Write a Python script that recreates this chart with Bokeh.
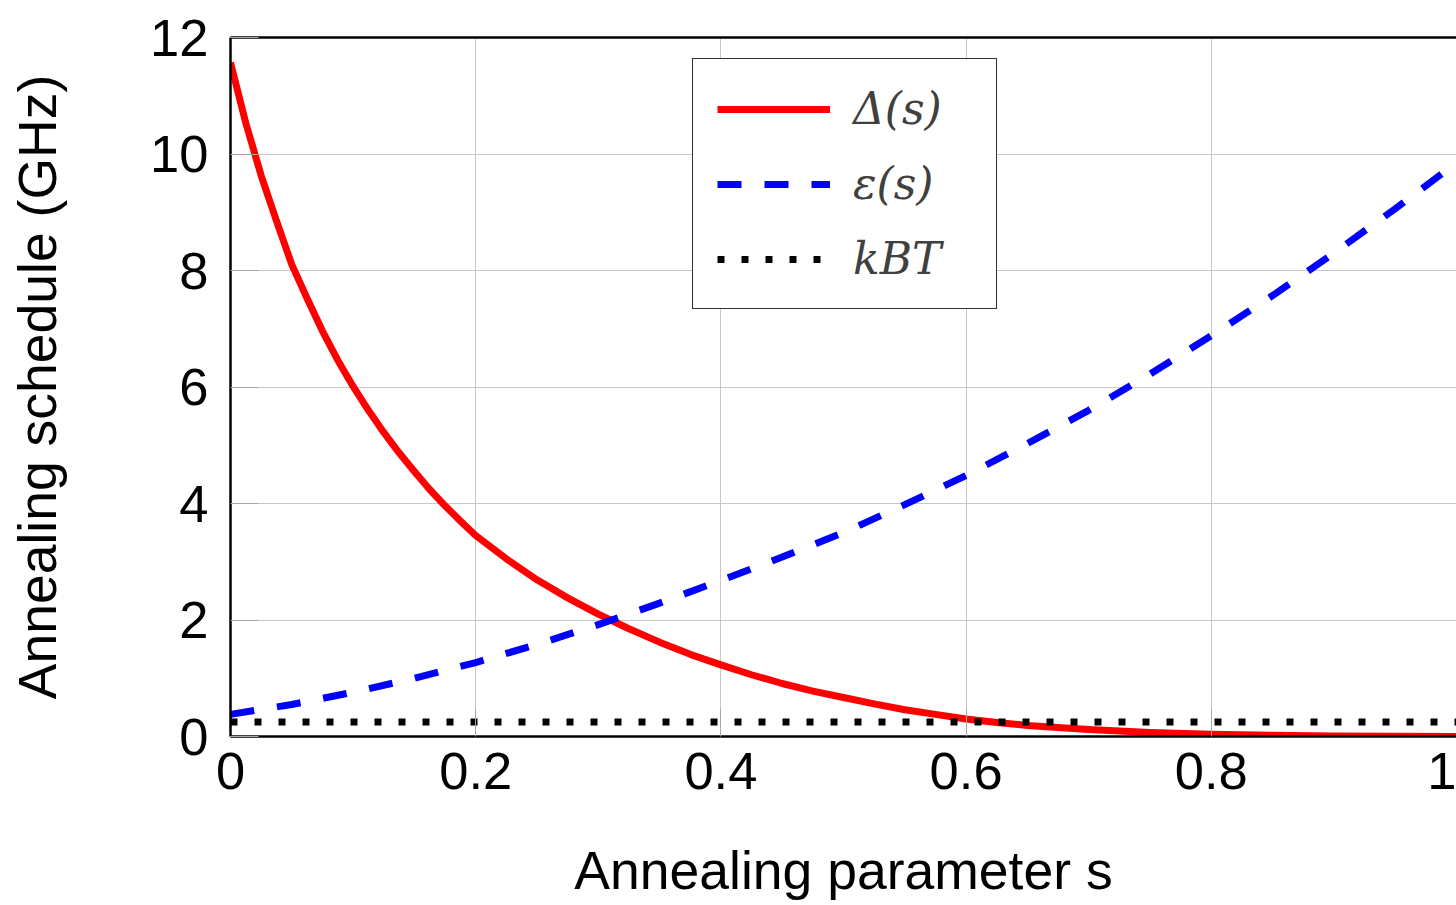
from bokeh.plotting import figure
from bokeh.models import Legend, LegendItem, FixedTicker, LinearAxis, Range1d
from bokeh.embed import file_html
from bokeh.resources import INLINE

# ---- data ----
s_delta = [0, 0.0125, 0.025, 0.0375, 0.05, 0.0625, 0.075, 0.0875, 0.1, 0.1125, 0.125,
           0.1375, 0.15, 0.1625, 0.175, 0.1875, 0.2, 0.225, 0.25, 0.275, 0.3, 0.325,
           0.35, 0.375, 0.4, 0.425, 0.45, 0.475, 0.5, 0.525, 0.55, 0.575, 0.6, 0.625,
           0.65, 0.7, 0.75, 0.8, 0.85, 0.9, 0.95, 1.0]
delta = [11.57, 10.53, 9.63, 8.85, 8.1, 7.52, 6.96, 6.46, 6.01, 5.60, 5.22,
         4.87, 4.55, 4.24, 3.96, 3.70, 3.45, 3.05, 2.69, 2.38, 2.10, 1.85,
         1.62, 1.41, 1.23, 1.06, 0.91, 0.78, 0.67, 0.56, 0.46, 0.38, 0.30, 0.24,
         0.19, 0.12, 0.07, 0.04, 0.02, 0.01, 0.005, 0.0]

s_eps = [0, 0.05, 0.1, 0.15, 0.2, 0.25, 0.3, 0.35, 0.4, 0.45, 0.5, 0.55, 0.6,
         0.65, 0.7, 0.75, 0.8, 0.85, 0.9, 0.95, 1.0]
eps = [0.38, 0.55, 0.76, 1.0, 1.27, 1.58, 1.92, 2.29, 2.68, 3.08, 3.5, 3.98, 4.48,
       5.03, 5.6, 6.22, 6.88, 7.57, 8.3, 9.06, 9.85]

s_kbt = [0, 1.0]
kbt = [0.25, 0.25]

x_ticks = [0, 0.2, 0.4, 0.6, 0.8, 1]
x_tick_labels = ["0", "0.2", "0.4", "0.6", "0.8", "1"]
y_ticks = [0, 2, 4, 6, 8, 10, 12]
y_tick_labels = ["0", "2", "4", "6", "8", "10", "12"]

labels = ["Δ(s)", "ε(s)", "kBT"]

# ---- figure ----
p = figure(width=1456, height=905, x_range=Range1d(0, 1), y_range=Range1d(0, 12),
           output_backend="svg", toolbar_location=None,
           min_border_left=230, min_border_right=0, min_border_top=37, min_border_bottom=169,
           x_axis_label="Annealing parameter s", y_axis_label="Annealing schedule (GHz)")
p.outline_line_color = None
p.background_fill_color = "white"
p.border_fill_color = "white"

r1 = p.line(s_delta, delta, line_color="#ff0000", line_width=7, line_join="round")
r2 = p.line(s_eps, eps, line_color="#0000ff", line_width=7, line_dash="24 23")
r3 = p.line(s_kbt, kbt, line_color="black", line_width=7, line_dash="7 17")

# axes
for ax in (p.xaxis[0], p.yaxis[0]):
    ax.axis_line_color = "black"
    ax.axis_line_width = 2.5
    ax.major_tick_in = 28
    ax.major_tick_out = 0
    ax.major_tick_line_color = "#a8a8a8"
    ax.major_tick_line_width = 1
    ax.minor_tick_line_color = None
    ax.major_label_text_font = "Liberation Sans"
    ax.major_label_text_font_size = "52.5px"
    ax.major_label_text_color = "black"
    ax.axis_label_text_font = "Liberation Sans"
    ax.axis_label_text_font_size = "53.5px"
    ax.axis_label_text_font_style = "normal"
    ax.axis_label_text_color = "black"

p.xaxis[0].ticker = FixedTicker(ticks=x_ticks)
p.xaxis[0].major_label_overrides = {t: l for t, l in zip(x_ticks, x_tick_labels)}
p.xaxis[0].major_label_standoff = 16
p.xaxis[0].axis_label_standoff = 49

p.yaxis[0].ticker = FixedTicker(ticks=y_ticks)
p.yaxis[0].major_label_overrides = {t: l for t, l in zip(y_ticks, y_tick_labels)}
p.yaxis[0].major_label_standoff = 22
p.yaxis[0].axis_label_standoff = 80

# top border as an empty axis
top = LinearAxis(ticker=FixedTicker(ticks=[]), axis_line_color="black", axis_line_width=2.5,
                 major_tick_out=0, major_tick_in=0, minor_tick_out=0, minor_tick_in=0,
                 major_label_text_font_size="0px")
p.add_layout(top, "above")

p.xgrid[0].ticker = FixedTicker(ticks=x_ticks)
p.ygrid[0].ticker = FixedTicker(ticks=y_ticks)
p.xgrid.grid_line_color = "#c8c8c8"
p.ygrid.grid_line_color = "#c8c8c8"
p.xgrid.grid_line_width = 1
p.ygrid.grid_line_width = 1

legend = Legend(items=[LegendItem(label=labels[0], renderers=[r1]),
                       LegendItem(label=labels[1], renderers=[r2]),
                       LegendItem(label=labels[2], renderers=[r3])],
                location=(462, 427))
legend.label_text_font = "DejaVu Serif"
legend.label_text_font_style = "italic"
legend.label_text_font_size = "44px"
legend.label_text_color = "#404040"
legend.glyph_width = 113
legend.glyph_height = 50
legend.label_height = 50
legend.label_width = 119
legend.label_standoff = 23
legend.spacing = 24
legend.padding = 24
legend.margin = 0
legend.border_line_color = "#333333"
legend.border_line_alpha = 1.0
legend.border_line_width = 1.5
legend.background_fill_color = "white"
legend.background_fill_alpha = 1.0
p.add_layout(legend, "center")

open("out.html", "w").write(file_html(p, INLINE))
